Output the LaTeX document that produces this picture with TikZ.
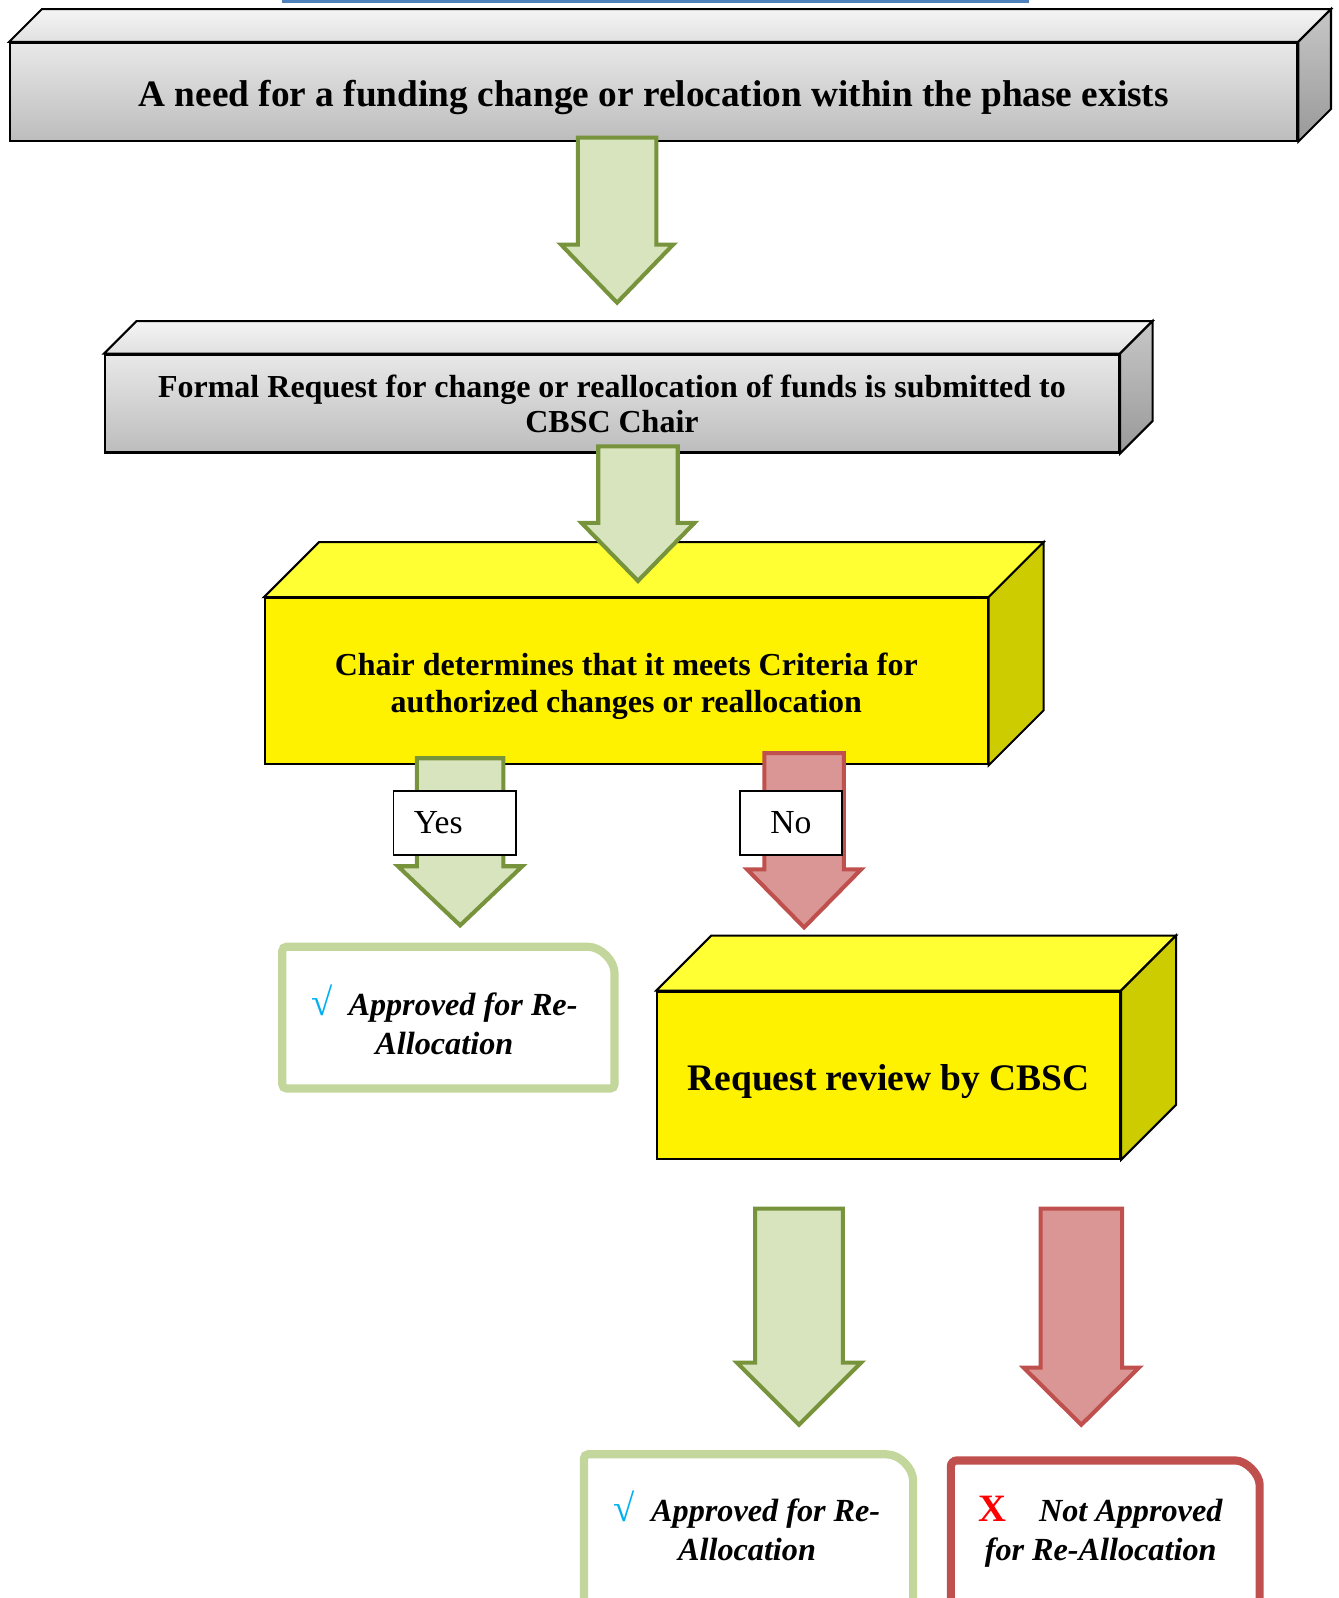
\documentclass[tikz,border=0pt]{standalone}
\usepackage{fontspec}
\setmainfont{Liberation Serif}
\usetikzlibrary{calc}

\definecolor{okfill}{HTML}{D7E4BD}
\definecolor{okline}{HTML}{77933C}
\definecolor{nofill}{HTML}{D99694}
\definecolor{noline}{HTML}{C0504D}
\definecolor{okframe}{HTML}{C3D69B}
\definecolor{tickblue}{HTML}{00B0F0}
\definecolor{barblue}{HTML}{4F81BD}
\definecolor{sideyellow}{HTML}{CCCC00}
\definecolor{topyellow}{HTML}{FFFF33}

% top and right faces of a box whose front is node #1
\newcommand{\cubefaces}[4]{%
  \path[#3] (#1.north west) -- ++(#2,-#2) -- ($(#1.north east)+(#2,-#2)$) -- (#1.north east) -- cycle;
  \path[#4] (#1.north east) -- ++(#2,-#2) -- ($(#1.south east)+(#2,-#2)$) -- (#1.south east) -- cycle;}

% block arrow pointing down: style, x, top, neck, tip, half shaft, half head
\newcommand{\downblock}[7]{%
  \draw[#1] (#2-#6,#3) -- (#2+#6,#3) -- (#2+#6,#4) -- (#2+#7,#4) -- (#2,#5) -- (#2-#7,#4) -- (#2-#6,#4) -- cycle;}

% lower a line of text without changing its box
\newcommand{\lowered}[2]{\raisebox{-#1}[\height][\depth]{#2}}

\begin{document}
\begin{tikzpicture}[x=0.5pt,y=-0.5pt,
    graybox/.style={draw,line width=1pt,top color=black!9,bottom color=black!26,align=center},
    graytop/.style={draw,line width=1pt,top color=black!4,bottom color=black!12},
    grayside/.style={draw,line width=1pt,top color=black!22,bottom color=black!40},
    yellowbox/.style={draw,line width=1pt,fill=yellow,align=center},
    yellowtop/.style={draw,line width=1pt,fill=topyellow},
    yellowside/.style={draw,line width=1pt,fill=sideyellow},
    okarrow/.style={draw=okline,fill=okfill,line width=2pt},
    noarrow/.style={draw=noline,fill=nofill,line width=2pt},
    tag/.style={draw,fill=white,line width=0.8pt,minimum height=31.5pt,font=\fontsize{16.5}{18}\selectfont},
    okframe/.style={draw=okframe,fill=white,line width=4pt,rounded corners=2pt},
    noframe/.style={draw=noline,fill=white,line width=4pt,rounded corners=3pt},
    result/.style={align=center,font=\fontsize{15.8}{19}\selectfont\bfseries\itshape}]
    \useasboundingbox (0,0) rectangle (1313,1568);
    \clip (0,0) rectangle (1313,1568);

    \fill[barblue] (277,-4) rectangle (1010,3);

    % first box
    \node[graybox,minimum width=631.5pt,minimum height=48pt,font=\fontsize{18.3}{22}\selectfont\bfseries] (need) at (641.5,90)
        {\lowered{3pt}{A need for a funding change or relocation within the phase exists}};
    \cubefaces{need}{32}{graytop}{grayside}

    % formal request
    \node[graybox,minimum width=497.5pt,minimum height=48pt,font=\fontsize{15.7}{17}\selectfont\bfseries] (formal) at (600.5,396)
        {Formal Request for change or reallocation of funds is submitted to\\CBSC Chair};
    \cubefaces{formal}{32}{graytop}{grayside}

    \downblock{okarrow}{605.5}{135}{240}{297}{38.5}{55}

    % chair decision
    \node[yellowbox,minimum width=354.5pt,minimum height=81.5pt,font=\fontsize{15.7}{18}\selectfont\bfseries] (chair) at (614.5,668.5)
        {\lowered{2.5pt}{Chair determines that it meets Criteria for}\\\lowered{2.5pt}{authorized changes or reallocation}};
    \cubefaces{chair}{54}{yellowtop}{yellowside}

    \downblock{okarrow}{626}{438}{513}{570}{39}{55.5}

    % yes / no
    \downblock{okarrow}{451.5}{744}{850}{908}{42.5}{61}
    \downblock{noarrow}{789}{739}{853}{910}{39}{56}
    \node[tag,inner xsep=10pt,text width=40pt,align=left] (yes) at (446,807.5) {Yes};
    \node[tag,minimum width=50pt] (no) at (776,807.5) {No};

    % approved by chair
    \draw[okframe] (277,1068) -- (277,929) -- (573,929) arc[start angle=90,end angle=0,radius=15pt] -- (603,1068) -- cycle;
    \node[result] (ok1) at (436,1001) {{\normalfont\fontsize{19}{19}\selectfont\color{tickblue}√}\enspace Approved for Re-\\Allocation};

    % review by CBSC
    \node[yellowbox,minimum width=227pt,minimum height=82pt,font=\fontsize{18.4}{22}\selectfont\bfseries] (review) at (872,1055)
        {\lowered{3pt}{Request review by CBSC}};
    \cubefaces{review}{54}{yellowtop}{yellowside}

    \downblock{okarrow}{784}{1186}{1337}{1398}{43}{61}
    \downblock{noarrow}{1061}{1186}{1342}{1398}{40}{56.5}

    % outcomes of the review
    \draw[okframe] (573,1620) -- (573,1427) -- (866,1427) arc[start angle=90,end angle=0,radius=15pt] -- (896,1620) -- cycle;
    \node[result] (ok2) at (733,1497) {{\normalfont\fontsize{19}{19}\selectfont\color{tickblue}√}\enspace Approved for Re-\\Allocation};

    \draw[noframe] (933,1620) -- (933,1433) -- (1206,1433) arc[start angle=90,end angle=0,radius=15pt] -- (1236,1620) -- cycle;
    \node[result] (notok) at (1080,1503) {{\normalfont\bfseries\fontsize{19}{19}\selectfont\color{red}X}\quad Not Approved\\for Re-Allocation};
\end{tikzpicture}
\end{document}
